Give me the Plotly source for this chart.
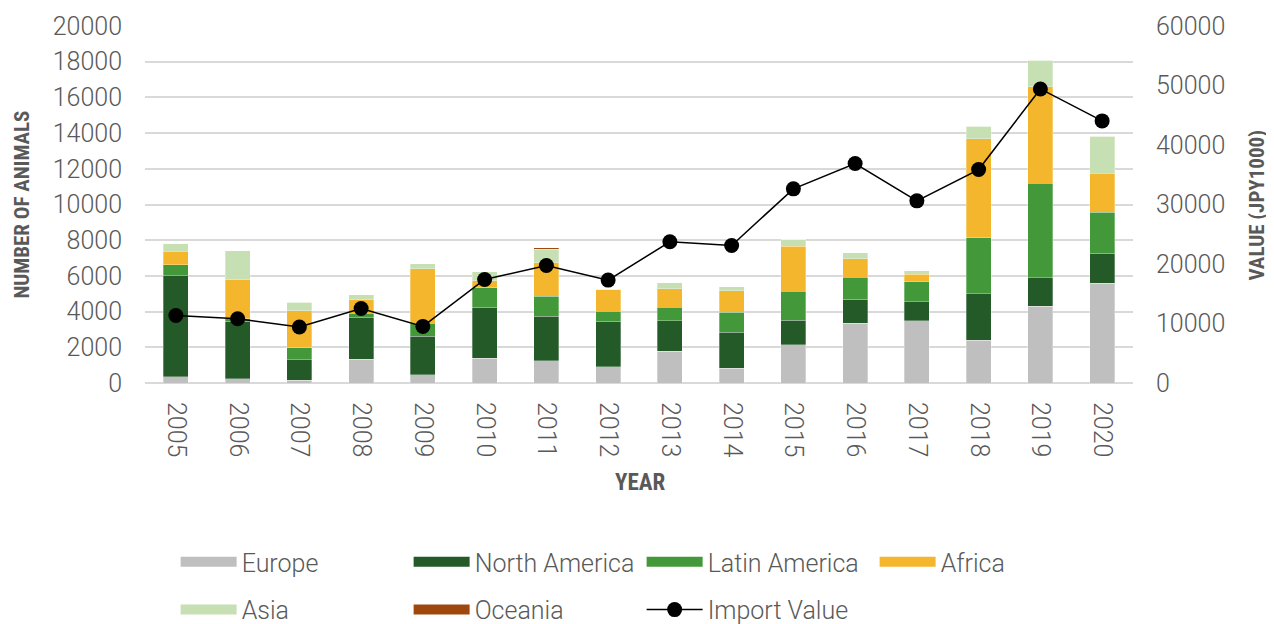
import plotly.graph_objects as go

years = [str(y) for y in range(2005, 2021)]
europe = [340, 230, 150, 1340, 450, 1400, 1250, 900, 1770, 820, 2130, 3340, 3490, 2400, 4290, 5600]
north_america = [5680, 3220, 1150, 2330, 2160, 2830, 2500, 2550, 1730, 2030, 1380, 1360, 1060, 2610, 1620, 1660]
latin_america = [600, 150, 670, 250, 730, 1120, 1100, 560, 750, 1120, 1620, 1230, 1120, 3130, 5280, 2320]
africa = [750, 2180, 2070, 740, 3060, 370, 1880, 1250, 1040, 1210, 2520, 1040, 430, 5540, 5410, 2180]
asia = [430, 1620, 490, 280, 280, 500, 770, 0, 320, 210, 370, 320, 200, 710, 1490, 2050]
oceania = [0, 0, 0, 0, 0, 0, 75, 0, 0, 0, 0, 0, 0, 0, 0, 0]
import_value = [11350, 10800, 9400, 12530, 9510, 17400, 19750, 17290, 23730, 23110,
                32630, 36880, 30610, 35870, 49420, 44050]

series = [
    ("Europe", europe, "#BFBFBF", "legend"),
    ("North America", north_america, "#235A27", "legend"),
    ("Latin America", latin_america, "#43993A", "legend"),
    ("Africa", africa, "#F4B62C", "legend"),
    ("Asia", asia, "#C6E0B4", "legend2"),
    ("Oceania", oceania, "#9E480E", "legend2"),
]

TXT = "#595959"
FONT = "Roboto"
TITLE_FONT = ("Liberation Sans Narrow, Roboto Condensed, Noto Sans Condensed, "
              "Open Sans Condensed, DejaVu Sans Condensed, sans-serif")
FS = 25

fig = go.Figure()
for name, vals, col, lg in series:
    fig.add_trace(go.Bar(x=years, y=vals, name=name,
                         marker=dict(color=col, line=dict(color="rgba(255,255,255,0.6)", width=0.5)),
                         showlegend=False))
for name, vals, col, lg in series:
    fig.add_trace(go.Scatter(x=[years[0]], y=[None], mode="lines", name=name,
                             line=dict(color=col, width=16), legend=lg))

fig.add_trace(go.Scatter(x=years, y=import_value, name="Import Value", yaxis="y2",
                         mode="lines+markers", line=dict(color="black", width=1.5),
                         marker=dict(color="black", size=15), legend="legend2"))

tick_font = dict(family=FONT, size=FS, color=TXT, weight=300)
leg_common = dict(orientation="h", xanchor="left", yanchor="top", traceorder="normal",
                  entrywidth=162, entrywidthmode="pixels", itemwidth=56,
                  font=dict(family=FONT, size=FS, color=TXT, weight=300),
                  bgcolor="rgba(0,0,0,0)")

fig.update_layout(
    width=1274, height=624,
    barmode="stack", bargap=0.595,
    plot_bgcolor="white", paper_bgcolor="white",
    margin=dict(l=137, r=149, t=18, b=249, autoexpand=False),
    font=dict(family=FONT, size=FS, color=TXT, weight=300),
    xaxis=dict(type="category", categoryorder="array", categoryarray=years,
               range=[-0.5, len(years) - 0.5], tickangle=90, showgrid=False,
               showline=False, automargin=False,
               ticks="", ticklabelstandoff=18, tickfont=tick_font),
    yaxis=dict(range=[0, 20000], dtick=2000, tickformat="d", showgrid=True,
               gridcolor="#D9D9D9", gridwidth=1.5, automargin=False,
               zeroline=True, zerolinecolor="#D9D9D9", zerolinewidth=1.5, showline=False,
               ticks="", ticklabelstandoff=22, tickfont=tick_font),
    yaxis2=dict(range=[0, 60000], dtick=10000, tickformat="d", overlaying="y", side="right",
                showgrid=False, automargin=False,
                zeroline=False, showline=False, ticks="", ticklabelstandoff=22,
                tickfont=tick_font),
    legend=dict(x=0.031, y=-0.437, **leg_common),
    legend2=dict(x=0.031, y=-0.571, **leg_common),
    annotations=[
        dict(text="<b>NUMBER OF ANIMALS</b>", xref="paper", yref="paper", x=-0.1245, y=0.5,
             xanchor="center", yanchor="middle",
             textangle=-90, showarrow=False, font=dict(family=TITLE_FONT, size=21, color=TXT)),
        dict(text="<b>VALUE (JPY1000)</b>", xref="paper", yref="paper", x=1.1255, y=0.5,
             xanchor="center", yanchor="middle",
             textangle=-90, showarrow=False, font=dict(family=TITLE_FONT, size=21, color=TXT)),
        dict(text="<b>YEAR</b>", xref="paper", yref="paper", x=0.501, y=-0.279,
             xanchor="center", yanchor="middle",
             showarrow=False, font=dict(family=TITLE_FONT, size=23, color=TXT)),
    ],
)

fig.write_html("out.html")
